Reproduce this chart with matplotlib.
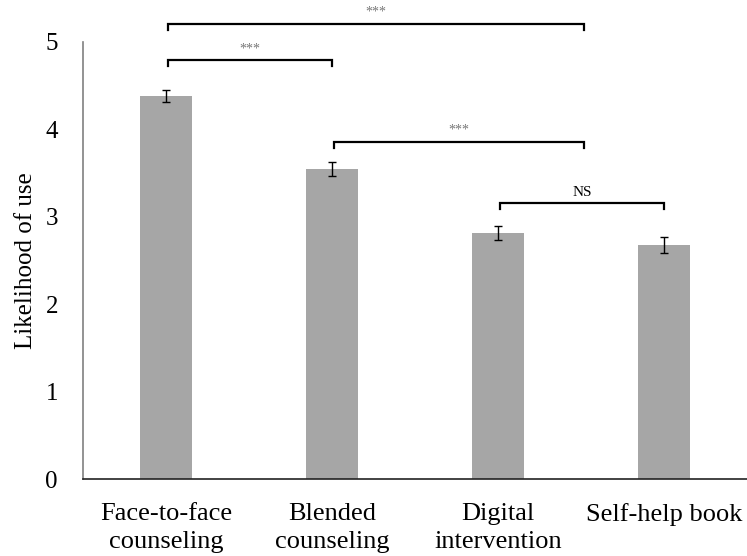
import matplotlib.pyplot as plt

# mean likelihood of use per intervention type, with standard errors
categories = ["Face-to-face\ncounseling", "Blended\ncounseling", "Digital\nintervention", "Self-help book"]
means = [4.38, 3.55, 2.81, 2.68]
errors = [0.07, 0.08, 0.08, 0.09]

# significance brackets: (x start, x end, height, label)
bracket_x0 = [0.01, 0.01, 1.01, 2.01]
bracket_x1 = [2.52, 1.0, 2.52, 3.0]
bracket_y = [5.21, 4.79, 3.86, 3.16]
bracket_labels = ["***", "***", "***", "NS"]

plt.rcParams["font.family"] = ["Liberation Serif", "DejaVu Serif"]

fig = plt.figure(figsize=(7.47, 5.56), dpi=100)
ax = fig.add_axes([83 / 747, 77 / 556, 664 / 747, 437 / 556])

x = range(len(categories))
ax.bar(x, means, width=0.31, color="#a6a6a6", zorder=2)
ax.errorbar(x, means, yerr=errors, fmt="none", ecolor="black",
            elinewidth=1.0, capsize=3, capthick=1.0, zorder=3)

ax.set_xlim(-0.5, 3.5)
ax.set_ylim(0, 5)
ax.set_yticks([0, 1, 2, 3, 4, 5])
ax.set_xticks(list(x))
ax.set_xticklabels(categories, fontsize=19, linespacing=1.4, va="top")
ax.tick_params(axis="y", labelsize=18, length=0, pad=18)
ax.tick_params(axis="x", length=0, pad=17)
ax.set_ylabel("Likelihood of use", fontsize=18, labelpad=6)

ax.spines["top"].set_visible(False)
ax.spines["right"].set_visible(False)
ax.spines["left"].set_color("#808080")
ax.spines["bottom"].set_color("#222222")
ax.spines["left"].set_linewidth(1.2)
ax.spines["bottom"].set_linewidth(1.2)

for x0, x1, y, lab in zip(bracket_x0, bracket_x1, bracket_y, bracket_labels):
    ax.plot([x0, x0, x1, x1], [y - 0.07, y, y, y - 0.07], color="black",
            lw=1.6, clip_on=False, solid_joinstyle="miter")
    if lab == "NS":
        ax.text((x0 + x1) / 2, y + 0.04, lab, ha="center", va="bottom",
                fontsize=11, color="black", clip_on=False)
    else:
        ax.text((x0 + x1) / 2, y + 0.06, lab, ha="center", va="bottom",
                fontsize=10, color="#777777", clip_on=False)

fig.savefig("out.png", dpi=100)
